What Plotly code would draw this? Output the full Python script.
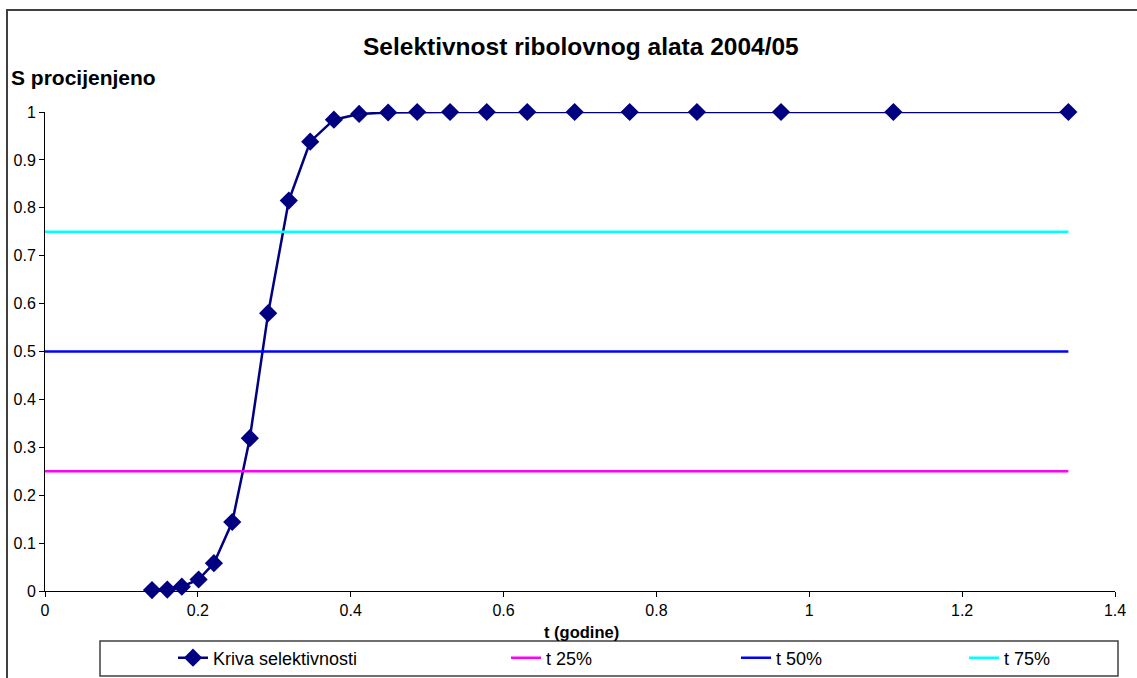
import plotly.graph_objects as go

# ---- data ----
t_years = [0.140, 0.160, 0.179, 0.201, 0.221, 0.245, 0.268, 0.292, 0.319, 0.347,
           0.378, 0.411, 0.449, 0.487, 0.530, 0.578, 0.631, 0.693, 0.765, 0.853,
           0.963, 1.110, 1.339]
s_est = [0.002, 0.003, 0.009, 0.024, 0.058, 0.144, 0.319, 0.580, 0.815, 0.938,
         0.984, 0.996, 0.999, 1.0, 1.0, 1.0, 1.0, 1.0, 1.0, 1.0,
         1.0, 1.0, 1.0]
level_names = ["t 25%", "t 50%", "t 75%"]
level_values = [0.25, 0.50, 0.75]
level_colors = ["#FF00FF", "#0000FF", "#00FFFF"]
x_ticks = [0, 0.2, 0.4, 0.6, 0.8, 1, 1.2, 1.4]
y_ticks = [0, 0.1, 0.2, 0.3, 0.4, 0.5, 0.6, 0.7, 0.8, 0.9, 1]

FONT = "Liberation Sans, Arial, sans-serif"
W, H = 1137, 678
L, R, T, B = 45, 22, 112, 87
pw, ph = W - L - R, H - T - B

def px_x(px):
    return (px - L) / pw

def px_y(py):
    return (H - B - py) / ph

fig = go.Figure()

fig.add_trace(go.Scatter(
    x=t_years, y=s_est, mode="lines+markers", name="Kriva selektivnosti",
    line=dict(color="#000080", width=2.5),
    marker=dict(symbol="diamond", size=14, color="#000080"),
    cliponaxis=False, legend="legend",
))

legend_ids = ["legend2", "legend3", "legend4"]
for name, val, col, lid in zip(level_names, level_values, level_colors, legend_ids):
    fig.add_trace(go.Scatter(
        x=[0, max(t_years)], y=[val, val], mode="lines", name=name,
        line=dict(color=col, width=2.5), legend=lid,
    ))

leg_common = dict(orientation="h", yanchor="middle", xanchor="left",
                  bgcolor="rgba(0,0,0,0)", borderwidth=0,
                  font=dict(family=FONT, size=18, color="#000000"),
                  itemwidth=30)
leg_y = px_y(658)
fig.update_layout(
    legend=dict(x=px_x(173), y=leg_y, **leg_common),
    legend2=dict(x=px_x(506), y=leg_y, **leg_common),
    legend3=dict(x=px_x(736), y=leg_y, **leg_common),
    legend4=dict(x=px_x(964), y=leg_y, **leg_common),
)

fig.update_layout(
    width=W, height=H,
    margin=dict(l=L, r=R, t=T, b=B, autoexpand=False),
    paper_bgcolor="white", plot_bgcolor="white",
    font=dict(family=FONT, size=16, color="#000000"),
    showlegend=True,
    xaxis=dict(range=[0, 1.4], tickvals=x_ticks, ticktext=[f"{v:g}" for v in x_ticks],
               showgrid=False, zeroline=False, showline=True, linecolor="#000000",
               linewidth=1, ticks="outside", ticklen=5, tickcolor="#000000",
               tickfont=dict(family=FONT, size=16)),
    yaxis=dict(range=[0, 1], tickvals=y_ticks, ticktext=[f"{v:g}" for v in y_ticks],
               showgrid=False, zeroline=False, showline=True, linecolor="#000000",
               linewidth=1, ticks="outside", ticklen=5, tickcolor="#000000",
               tickfont=dict(family=FONT, size=16)),
    annotations=[
        dict(text="<b>Selektivnost ribolovnog alata 2004/05</b>", xref="paper", yref="paper",
             x=px_x(581), y=px_y(46), xanchor="center", yanchor="middle", showarrow=False,
             font=dict(family=FONT, size=24.5)),
        dict(text="<b>S procijenjeno</b>", xref="paper", yref="paper",
             x=px_x(9), y=px_y(78), xanchor="left", yanchor="middle", showarrow=False,
             font=dict(family=FONT, size=21)),
        dict(text="<b>t (godine)</b>", xref="paper", yref="paper",
             x=px_x(581), y=px_y(632), xanchor="center", yanchor="middle", showarrow=False,
             font=dict(family=FONT, size=16.5)),
    ],
    shapes=[
        dict(type="rect", xref="paper", yref="paper",
             x0=px_x(7), x1=px_x(1150), y0=px_y(10), y1=px_y(700),
             line=dict(color="#404040", width=2), fillcolor="rgba(0,0,0,0)", layer="below"),
        dict(type="rect", xref="paper", yref="paper",
             x0=px_x(100), x1=px_x(1118), y0=px_y(641), y1=px_y(676),
             line=dict(color="#404040", width=1.5), fillcolor="rgba(0,0,0,0)", layer="below"),
    ],
)

fig.write_html("out.html", config={"displayModeBar": False},
               post_script="document.body.style.margin='0';document.body.style.overflow='hidden';")
